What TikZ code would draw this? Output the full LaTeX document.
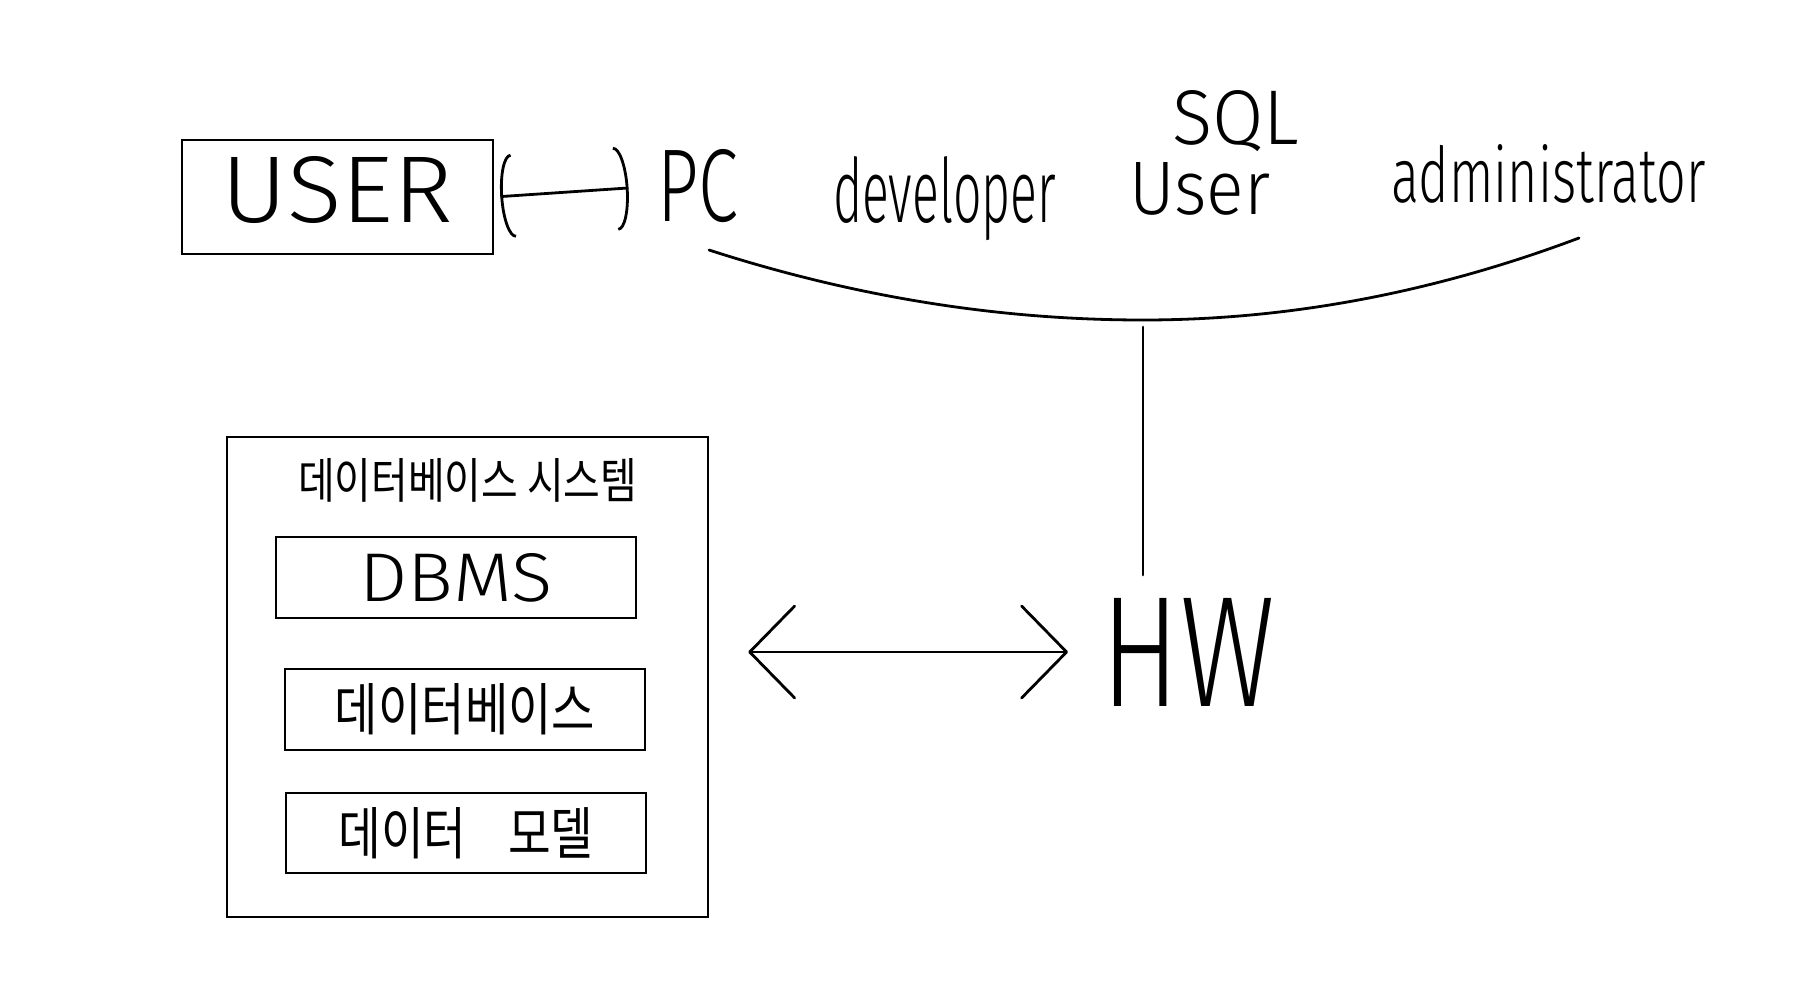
\documentclass[tikz,border=0pt]{standalone}
\usepackage{fontspec}
\usepackage{graphicx}
\setmainfont{Fira Sans}[UprightFont=* Light]
\newfontfamily\kr{Noto Sans CJK KR}
\usetikzlibrary{arrows.meta}
\tikzset{
  smallhead/.tip={Arc Barb[width=84pt,length=13pt]},
  bighead/.tip={Straight Barb[round,width=92pt,length=45pt]},
}
\begin{document}
\begin{tikzpicture}[x=1pt,y=-1pt,
  box/.style={draw, line width=2.6pt, inner sep=0pt, rectangle},
  lbl/.style={inner sep=0pt, outer sep=0pt},
  conn/.style={line width=2.8pt, line cap=round, line join=round},
]
\fill[white] (0,0) rectangle (1810,999);
\useasboundingbox (0,0) rectangle (1810,999);

% top row
\node[box, minimum width=311pt, minimum height=114pt, text depth=16pt] (user) at (337.5,197) {\resizebox{231pt}{66pt}{USER}};
\node[lbl] (pc) at (698,186) {\resizebox{81pt}{72pt}{PC}};
\node[lbl, anchor=base west] (dev) at (833,222) {\resizebox{223pt}{66pt}{developer}};
\node[lbl, anchor=base west] (sql) at (1172,144) {\resizebox{127pt}{54pt}{SQL}};
\node[lbl, anchor=base west] (sqluser) at (1129,214) {\resizebox{141pt}{52pt}{User}};
\node[lbl, anchor=base west] (admin) at (1391,202) {\resizebox{315pt}{58pt}{administrator}};

% arc
\coordinate (arcL) at (709,250);
\coordinate (arcB) at (1143,320);
\coordinate (arcR) at (1579,238);
\draw[conn] (arcL) .. controls (853.7,296.7) and (998.3,320) .. (arcB)
  .. controls (1288.3,320) and (1433.7,292.7) .. (arcR);

% HW
\node[lbl] (HW) at (1188.5,652) {\resizebox{173pt}{108pt}{HW}};

% database system
\node[box, minimum width=481pt, minimum height=480pt] (dbsys) at (467.5,677) {};
\node[lbl, anchor=base west] (title) at (298,498) {\resizebox{339pt}{40pt}{\kr 데이터베이스 시스템}};
\node[box, minimum width=360pt, minimum height=81pt] (dbms) at (456,577.5) {\resizebox{193pt}{48pt}{DBMS}};
\node[box, minimum width=360pt, minimum height=81pt] (db) at (465,709.5) {\resizebox{260pt}{47pt}{\kr 데이터베이스}};
\node[box, minimum width=360pt, minimum height=80pt] (model) at (466,833) {\resizebox{255pt}{47pt}{\kr 데이터\hspace{0.9em}모델}\hspace{28pt}};

% connectors
\draw[conn, smallhead-smallhead, shorten <=6pt, shorten >=29pt] (user.east) -- (pc.west);
\draw[conn, shorten <=7pt, shorten >=23pt] (arcB) -- (arcB |- HW.north);
\draw[conn, bighead-bighead, shorten <=39pt, shorten >=34pt] (dbsys.east |- HW.west) -- (HW.west);
\end{tikzpicture}
\end{document}
